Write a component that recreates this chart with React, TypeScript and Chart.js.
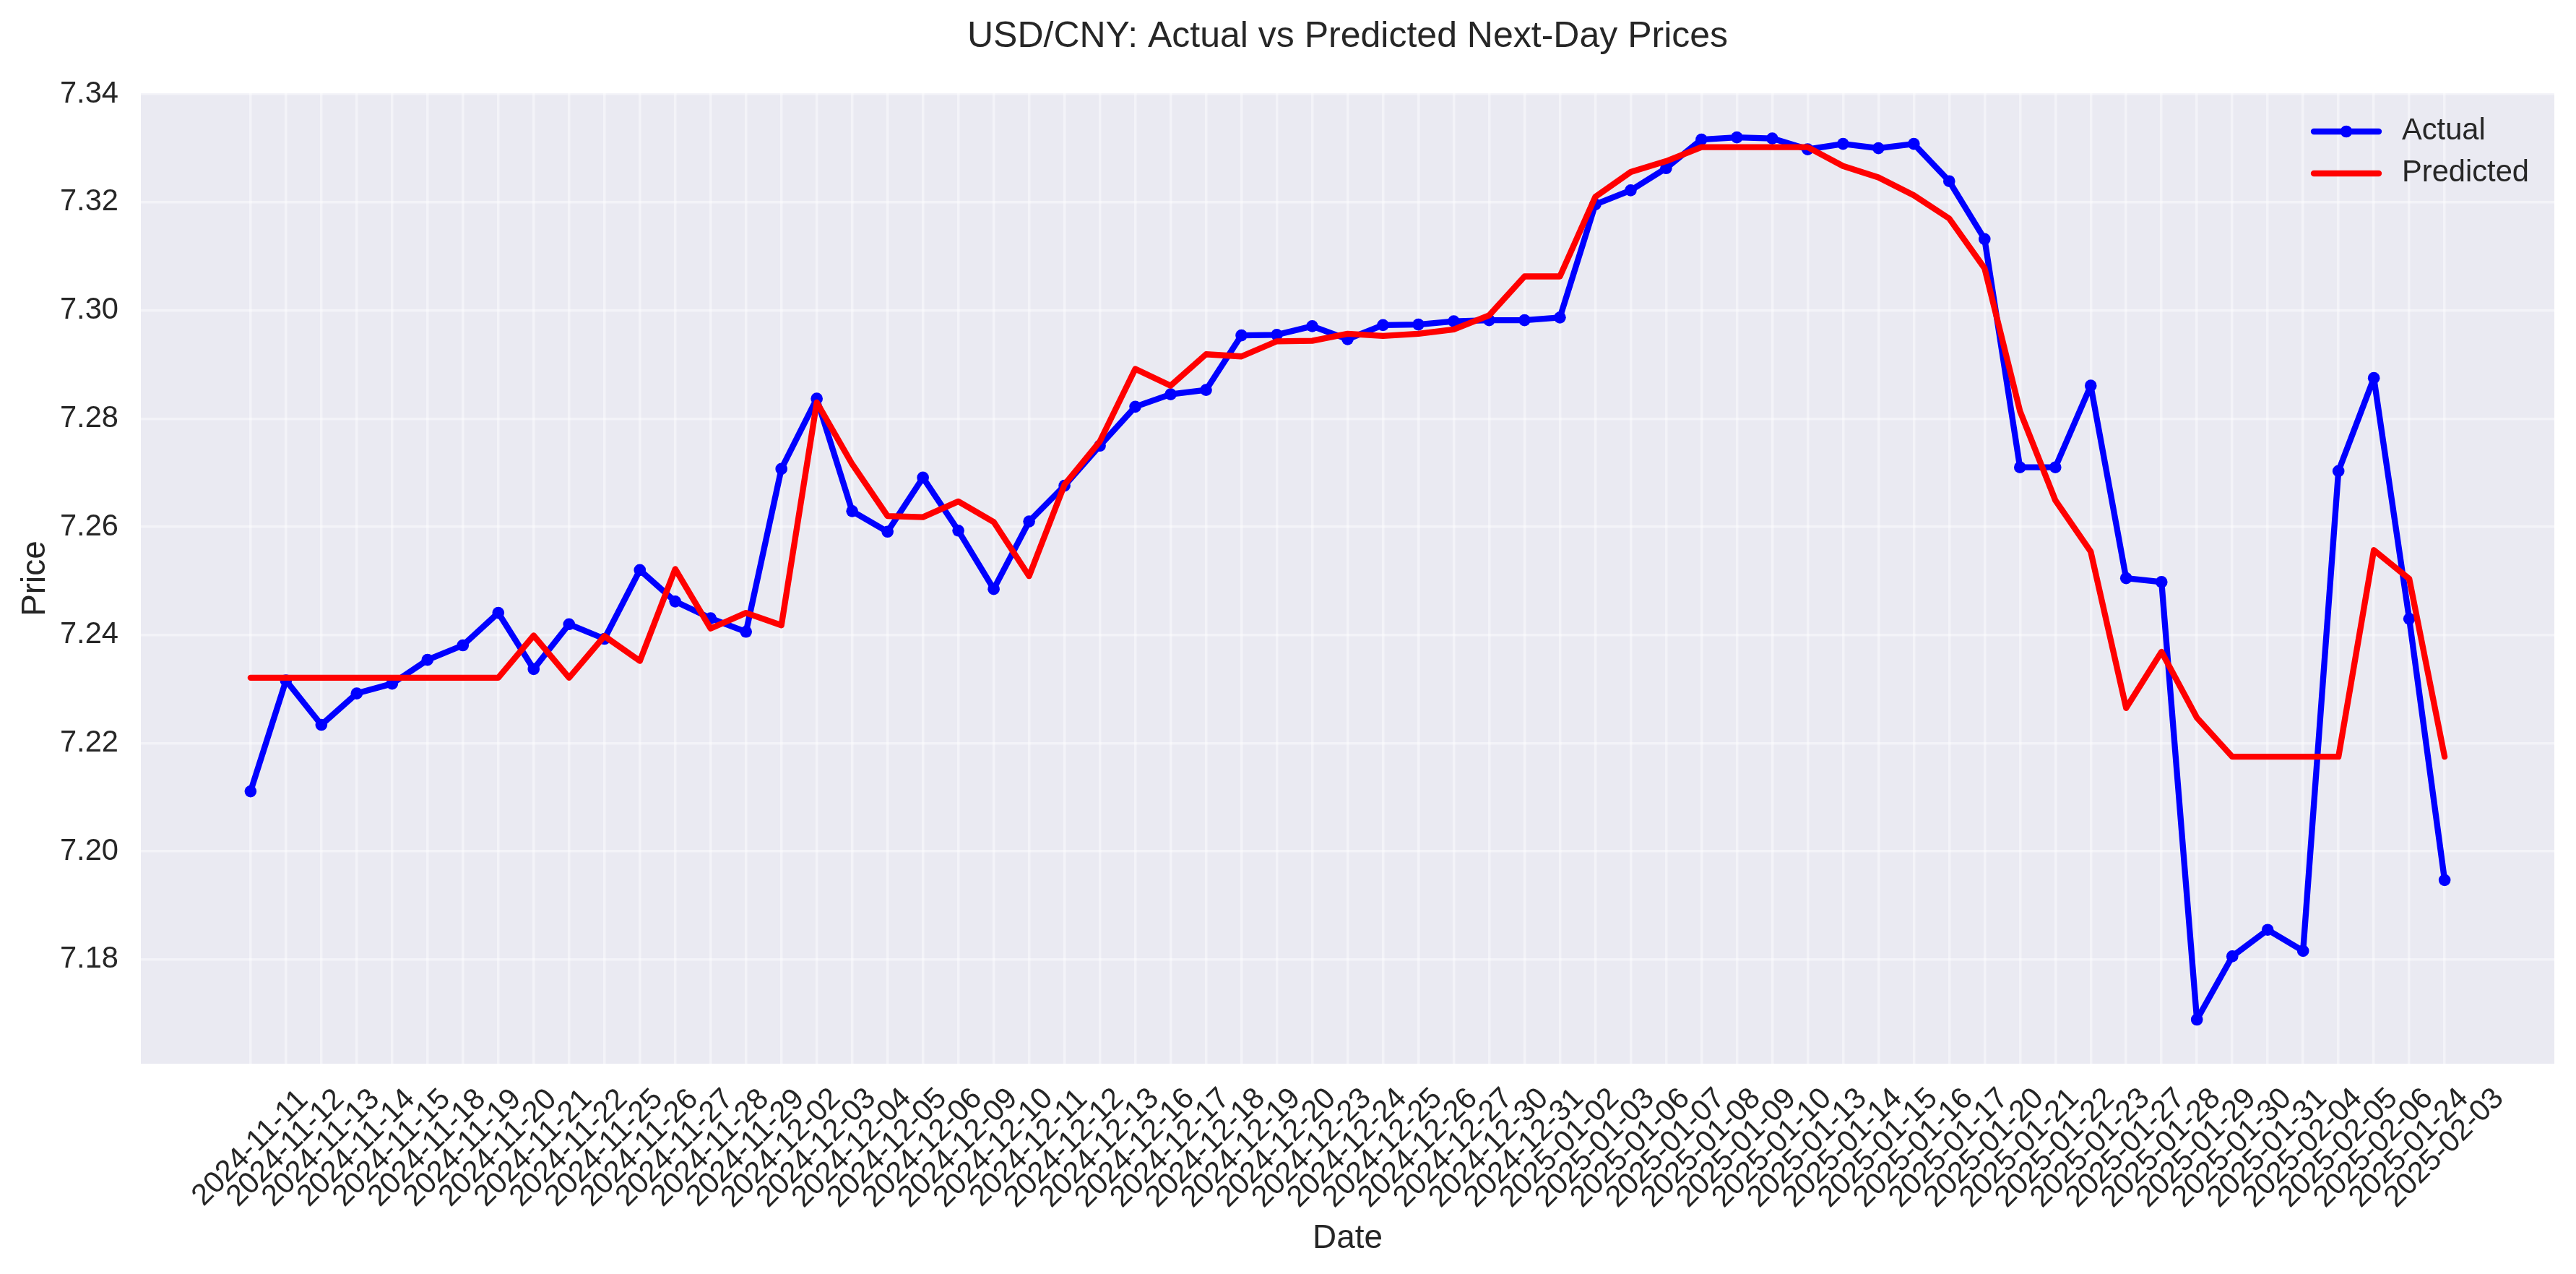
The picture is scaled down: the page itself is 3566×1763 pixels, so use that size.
import React, { useEffect, useRef } from "react";
import { Chart, registerables } from "chart.js";

Chart.register(...registerables);

const chartTitle = "USD/CNY: Actual vs Predicted Next-Day Prices";
const xAxisTitle = "Date";
const yAxisTitle = "Price";

const dateLabels = [
  "2024-11-11", "2024-11-12", "2024-11-13", "2024-11-14", "2024-11-15",
  "2024-11-18", "2024-11-19", "2024-11-20", "2024-11-21", "2024-11-22",
  "2024-11-25", "2024-11-26", "2024-11-27", "2024-11-28", "2024-11-29",
  "2024-12-02", "2024-12-03", "2024-12-04", "2024-12-05", "2024-12-06",
  "2024-12-09", "2024-12-10", "2024-12-11", "2024-12-12", "2024-12-13",
  "2024-12-16", "2024-12-17", "2024-12-18", "2024-12-19", "2024-12-20",
  "2024-12-23", "2024-12-24", "2024-12-25", "2024-12-26", "2024-12-27",
  "2024-12-30", "2024-12-31", "2025-01-02", "2025-01-03", "2025-01-06",
  "2025-01-07", "2025-01-08", "2025-01-09", "2025-01-10", "2025-01-13",
  "2025-01-14", "2025-01-15", "2025-01-16", "2025-01-17", "2025-01-20",
  "2025-01-21", "2025-01-22", "2025-01-23", "2025-01-27", "2025-01-28",
  "2025-01-29", "2025-01-30", "2025-01-31", "2025-02-04", "2025-02-05",
  "2025-02-06", "2025-01-24", "2025-02-03",
];

const actualPrices = [
  7.2111, 7.2316, 7.2234, 7.2292, 7.2310, 7.2354, 7.2381, 7.2441, 7.2337, 7.2420,
  7.2393, 7.2520, 7.2462, 7.2431, 7.2406, 7.2707, 7.2837, 7.2629, 7.2591, 7.2691,
  7.2593, 7.2485, 7.2610, 7.2676, 7.2750, 7.2822, 7.2845, 7.2853, 7.2954, 7.2955,
  7.2971, 7.2947, 7.2973, 7.2974, 7.2980, 7.2982, 7.2982, 7.2987, 7.3196, 7.3222,
  7.3263, 7.3316, 7.3320, 7.3318, 7.3298, 7.3308, 7.3300, 7.3308, 7.3239, 7.3132,
  7.2710, 7.2710, 7.2861, 7.2505, 7.2498, 7.1689, 7.1806, 7.1855, 7.1816, 7.2703,
  7.2875, 7.2430, 7.1947,
];

const predictedPrices = [
  7.2321, 7.2321, 7.2321, 7.2321, 7.2321, 7.2321, 7.2321, 7.2321, 7.2399, 7.2321,
  7.2398, 7.2352, 7.2522, 7.2412, 7.2441, 7.2418, 7.2830, 7.2716, 7.2620, 7.2618,
  7.2647, 7.2609, 7.2509, 7.2678, 7.2758, 7.2892, 7.2861, 7.2919, 7.2915, 7.2943,
  7.2944, 7.2957, 7.2953, 7.2957, 7.2965, 7.2991, 7.3063, 7.3063, 7.3210, 7.3256,
  7.3276, 7.3302, 7.3302, 7.3302, 7.3302, 7.3267, 7.3246, 7.3213, 7.3170, 7.3078,
  7.2814, 7.2649, 7.2554, 7.2265, 7.2369, 7.2247, 7.2175, 7.2175, 7.2175, 7.2175,
  7.2557, 7.2504, 7.2175,
];

const yTickValues = [7.18, 7.20, 7.22, 7.24, 7.26, 7.28, 7.30, 7.32, 7.34];
const yMin = 7.16075;
const yMax = 7.34016;
const xPad = 3.1;

const W = 3566;
const H = 1763;
const FONT = "'Liberation Sans', Arial, sans-serif";
const TEXT = "#262626";
const BLUE = "#0000FF";
const RED = "#FF0000";
const GRID = "rgba(255,255,255,0.45)";
const LW = 8.33;

export default function App() {
  const ref = useRef<HTMLCanvasElement>(null);

  useEffect(() => {
    document.body.style.margin = "0";
    const canvas = ref.current;
    if (!canvas) return;

    const decor = {
      id: "decor",
      beforeDraw(chart: any) {
        const { ctx, chartArea: a } = chart;
        ctx.save();
        ctx.fillStyle = "#FFFFFF";
        ctx.fillRect(0, 0, W, H);
        ctx.fillStyle = "#EAEAF2";
        ctx.fillRect(a.left, a.top, a.right - a.left, a.bottom - a.top);
        ctx.restore();
      },
      afterDraw(chart: any) {
        const { ctx, chartArea: a, scales } = chart;
        const xs = scales.x;
        const cx = (a.left + a.right) / 2;
        ctx.save();
        ctx.fillStyle = TEXT;

        // title
        ctx.font = `50px ${FONT}`;
        ctx.textAlign = "center";
        ctx.textBaseline = "alphabetic";
        ctx.fillText(chartTitle, cx, a.top - 64);

        // x axis title
        ctx.font = `45.83px ${FONT}`;
        ctx.fillText(xAxisTitle, cx, a.bottom + 255);

        // y axis title
        ctx.save();
        ctx.translate(62, (a.top + a.bottom) / 2);
        ctx.rotate(-Math.PI / 2);
        ctx.fillText(yAxisTitle, 0, 0);
        ctx.restore();

        // x tick labels (rotated 45°, centred under the tick)
        ctx.font = `41.67px ${FONT}`;
        ctx.textAlign = "center";
        ctx.textBaseline = "middle";
        dateLabels.forEach((lab, i) => {
          const px = xs.getPixelForValue(i);
          ctx.save();
          ctx.translate(px, a.bottom + 117);
          ctx.rotate(-Math.PI / 4);
          ctx.fillText(lab, 0, 0);
          ctx.restore();
        });

        // legend
        const lx0 = a.right - 333;
        const lx1 = a.right - 243;
        const ly1 = a.top + 53;
        const ly2 = a.top + 111;
        ctx.lineWidth = LW;
        ctx.lineCap = "round";
        ctx.strokeStyle = BLUE;
        ctx.beginPath();
        ctx.moveTo(lx0, ly1);
        ctx.lineTo(lx1, ly1);
        ctx.stroke();
        ctx.fillStyle = BLUE;
        ctx.beginPath();
        ctx.arc((lx0 + lx1) / 2, ly1, LW, 0, Math.PI * 2);
        ctx.fill();
        ctx.strokeStyle = RED;
        ctx.beginPath();
        ctx.moveTo(lx0, ly2);
        ctx.lineTo(lx1, ly2);
        ctx.stroke();
        ctx.fillStyle = TEXT;
        ctx.textAlign = "left";
        ctx.textBaseline = "middle";
        ctx.fillText("Actual", a.right - 211, ly1);
        ctx.fillText("Predicted", a.right - 211, ly2);
        ctx.restore();
      },
    };

    const chart = new Chart(canvas, {
      type: "line",
      data: {
        datasets: [
          {
            label: "Actual",
            data: actualPrices.map((y, i) => ({ x: i, y })),
            borderColor: BLUE,
            backgroundColor: BLUE,
            borderWidth: LW,
            pointRadius: LW,
            pointBorderWidth: 0,
            pointBackgroundColor: BLUE,
            borderCapStyle: "round",
            borderJoinStyle: "round",
            tension: 0,
            order: 1,
          },
          {
            label: "Predicted",
            data: predictedPrices.map((y, i) => ({ x: i, y })),
            borderColor: RED,
            backgroundColor: RED,
            borderWidth: LW,
            pointRadius: 0,
            borderCapStyle: "round",
            borderJoinStyle: "round",
            tension: 0,
            order: 0,
          },
        ],
      },
      options: {
        responsive: false,
        animation: false,
        devicePixelRatio: 1,
        events: [],
        layout: { padding: { top: 129, right: 30, left: 0, bottom: 0 } },
        plugins: {
          legend: { display: false },
          title: { display: false },
          tooltip: { enabled: false },
        },
        scales: {
          x: {
            type: "linear",
            min: -xPad,
            max: dateLabels.length - 1 + xPad,
            border: { display: false },
            grid: { color: GRID, lineWidth: 3.5, drawTicks: false },
            ticks: { display: false },
            afterBuildTicks: (s: any) => {
              s.ticks = dateLabels.map((_, i) => ({ value: i }));
            },
            afterFit: (s: any) => {
              s.height = H - 1472;
            },
          },
          y: {
            type: "linear",
            min: yMin,
            max: yMax,
            border: { display: false },
            grid: { color: GRID, lineWidth: 3.5, drawTicks: false },
            ticks: {
              padding: 31,
              color: TEXT,
              font: { family: FONT, size: 41.67 },
              callback: (v: any) => Number(v).toFixed(2),
            },
            afterBuildTicks: (s: any) => {
              s.ticks = yTickValues.map((v) => ({ value: v }));
            },
            afterFit: (s: any) => {
              s.width = 195;
            },
          },
        },
      },
      plugins: [decor],
    } as any);

    return () => chart.destroy();
  }, []);

  return (
    <div style={{ width: W, height: H }}>
      <canvas ref={ref} width={W} height={H} style={{ display: "block" }} />
    </div>
  );
}
